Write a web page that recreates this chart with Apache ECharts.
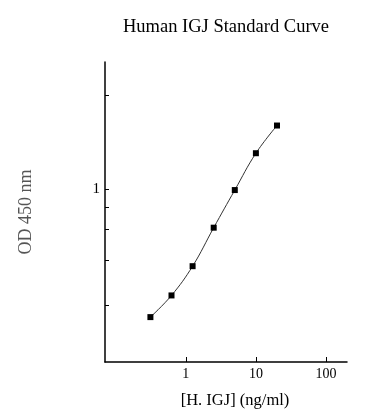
<!DOCTYPE html>
<html><head><meta charset="utf-8">
<script src="https://cdn.jsdelivr.net/npm/echarts@6/dist/echarts.min.js"></script>
<style>html,body{margin:0;padding:0;background:#fff;}#c{width:388px;height:420px;}</style>
</head><body><div id="c"></div>
<script>
const concentrations = [0.3125, 0.625, 1.25, 2.5, 5, 10, 20];
const odValues = [0.182, 0.243, 0.359, 0.600, 0.991, 1.62, 2.344];
const xTickValues = [1, 10, 100];
const yTickValues = [3.49, 1, 0.787, 0.587, 0.39, 0.213];
const yLabelValues = [1];

const serif = '"Liberation Serif", "DejaVu Serif", serif';
const chart = echarts.init(document.getElementById('c'), null, {renderer: 'canvas'});
chart.setOption({
  animation: false,
  backgroundColor: '#fff',
  title: {
    text: 'Human IGJ Standard Curve',
    left: 221, top: 13, textAlign: 'center',
    textStyle: {fontFamily: serif, fontSize: 18.5, fontWeight: 'normal', color: '#000'}
  },
  grid: {left: 105, right: 41, top: 62, bottom: 58, containLabel: false},
  xAxis: {
    type: 'log', logBase: 10, min: 0.0703, max: 199.5,
    name: '[H. IGJ] (ng/ml)', nameLocation: 'middle', nameGap: 30,
    nameTextStyle: {fontFamily: serif, fontSize: 16.5, color: '#000', padding: [0, 0, 0, 18]},
    axisLine: {lineStyle: {color: '#000', width: 1.5}},
    axisTick: {inside: true, length: 5, lineStyle: {color: '#000'}, customValues: xTickValues},
    axisLabel: {fontFamily: serif, fontSize: 14, color: '#000', margin: 5, customValues: xTickValues,
      formatter: v => String(Math.round(v))},
    minorTick: {show: false},
    splitLine: {show: false}
  },
  yAxis: {
    type: 'log', logBase: 10, min: 0.1, max: 5.47,
    name: 'OD 450 nm', nameLocation: 'middle', nameGap: 70,
    nameTextStyle: {fontFamily: serif, fontSize: 18, color: '#555'},
    axisLine: {lineStyle: {color: '#000', width: 1.5}},
    axisTick: {inside: true, length: 4, lineStyle: {color: '#000'}, customValues: yTickValues},
    axisLabel: {fontFamily: serif, fontSize: 15, color: '#000', margin: 5, customValues: yLabelValues,
      formatter: v => String(Math.round(v))},
    splitLine: {show: false}
  },
  series: [{
    type: 'line',
    data: concentrations.map((c, i) => [c, odValues[i]]),
    smooth: 0.4,
    symbol: 'rect', symbolSize: 6,
    itemStyle: {color: '#000'},
    lineStyle: {color: '#333', width: 1}
  }]
});
</script></body></html>
